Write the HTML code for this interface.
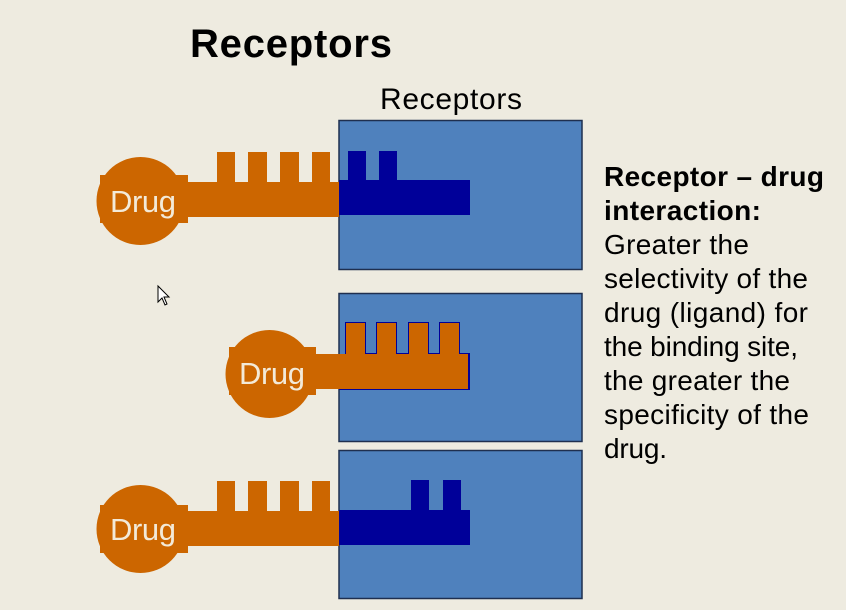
<!DOCTYPE html>
<html><head><style>
body{margin:0;background:#eeebe0;}
svg{display:block;font-family:"Liberation Sans",sans-serif;}
</style></head><body>
<svg width="846" height="610" viewBox="0 0 846 610">
<rect width="846" height="610" fill="#eeebe0"/>
<text x="190" y="57" font-size="40" font-weight="bold" fill="#000" textLength="202">Receptors</text>
<text x="380" y="109" font-size="30" fill="#000" textLength="142">Receptors</text>

<g>
<rect x="339" y="120.5" width="243" height="149" fill="#4f81bd" stroke="#1f2f4f" stroke-width="1.5"/>
<rect x="339" y="180" width="131" height="35" fill="#000099"/>
<rect x="348" y="151" width="18" height="30" fill="#000099"/>
<rect x="379" y="151" width="18" height="30" fill="#000099"/>
</g>
<g>
<circle cx="140.5" cy="201" r="44" fill="#cc6600"/>
<rect x="100" y="175" width="88" height="48" fill="#cc6600"/>
<rect x="187" y="182" width="152" height="35" fill="#cc6600"/>
<rect x="217" y="152" width="18" height="31" fill="#cc6600"/>
<rect x="248" y="152" width="19" height="31" fill="#cc6600"/>
<rect x="280" y="152" width="19" height="31" fill="#cc6600"/>
<rect x="312" y="152" width="18" height="31" fill="#cc6600"/>
<text x="110" y="212" font-size="31" fill="#f3ead8" textLength="66">Drug</text>
</g>

<g>
<rect x="339" y="293.5" width="243" height="148" fill="#4f81bd" stroke="#1f2f4f" stroke-width="1.5"/>
<path d="M346 354V323H365V354H377V323H396V354H409V323H428V354H440V323H459V354H469V389H339" fill="none" stroke="#000099" stroke-width="2"/>
</g>
<g>
<circle cx="269.5" cy="374" r="44" fill="#cc6600"/>
<rect x="229" y="347" width="87" height="48" fill="#cc6600"/>
<rect x="315" y="354" width="153" height="35" fill="#cc6600"/>
<rect x="346" y="323" width="19" height="32" fill="#cc6600"/>
<rect x="377" y="323" width="19" height="32" fill="#cc6600"/>
<rect x="409" y="323" width="19" height="32" fill="#cc6600"/>
<rect x="440" y="323" width="19" height="32" fill="#cc6600"/>
<text x="239" y="384" font-size="31" fill="#f3ead8" textLength="66">Drug</text>
</g>

<g>
<rect x="339" y="450.5" width="243" height="148" fill="#4f81bd" stroke="#1f2f4f" stroke-width="1.5"/>
<rect x="339" y="510" width="131" height="35" fill="#000099"/>
<rect x="411" y="480" width="18" height="31" fill="#000099"/>
<rect x="443" y="480" width="18" height="31" fill="#000099"/>
</g>
<g>
<circle cx="140.5" cy="529" r="44" fill="#cc6600"/>
<rect x="100" y="505" width="88" height="48" fill="#cc6600"/>
<rect x="187" y="511" width="152" height="35" fill="#cc6600"/>
<rect x="217" y="481" width="18" height="31" fill="#cc6600"/>
<rect x="248" y="481" width="19" height="31" fill="#cc6600"/>
<rect x="280" y="481" width="19" height="31" fill="#cc6600"/>
<rect x="312" y="481" width="18" height="31" fill="#cc6600"/>
<text x="110" y="540" font-size="31" fill="#f3ead8" textLength="66">Drug</text>
</g>

<path d="M158 286V302L162 298L165 305L167 304L164 297L169 297Z" fill="#fff" stroke="#000" stroke-width="1"/>

<g font-size="28" fill="#000">
<text x="604" y="186" font-weight="bold" textLength="220">Receptor – drug</text>
<text x="604" y="220" font-weight="bold" textLength="157">interaction:</text>
<text x="604" y="254" textLength="145">Greater the</text>
<text x="604" y="288" textLength="204">selectivity of the</text>
<text x="604" y="322" textLength="204">drug (ligand) for</text>
<text x="604" y="356" textLength="194">the binding site,</text>
<text x="604" y="390" textLength="186">the greater the</text>
<text x="604" y="424" textLength="205">specificity of the</text>
<text x="604" y="458" textLength="63">drug.</text>
</g>
</svg>
</body></html>
